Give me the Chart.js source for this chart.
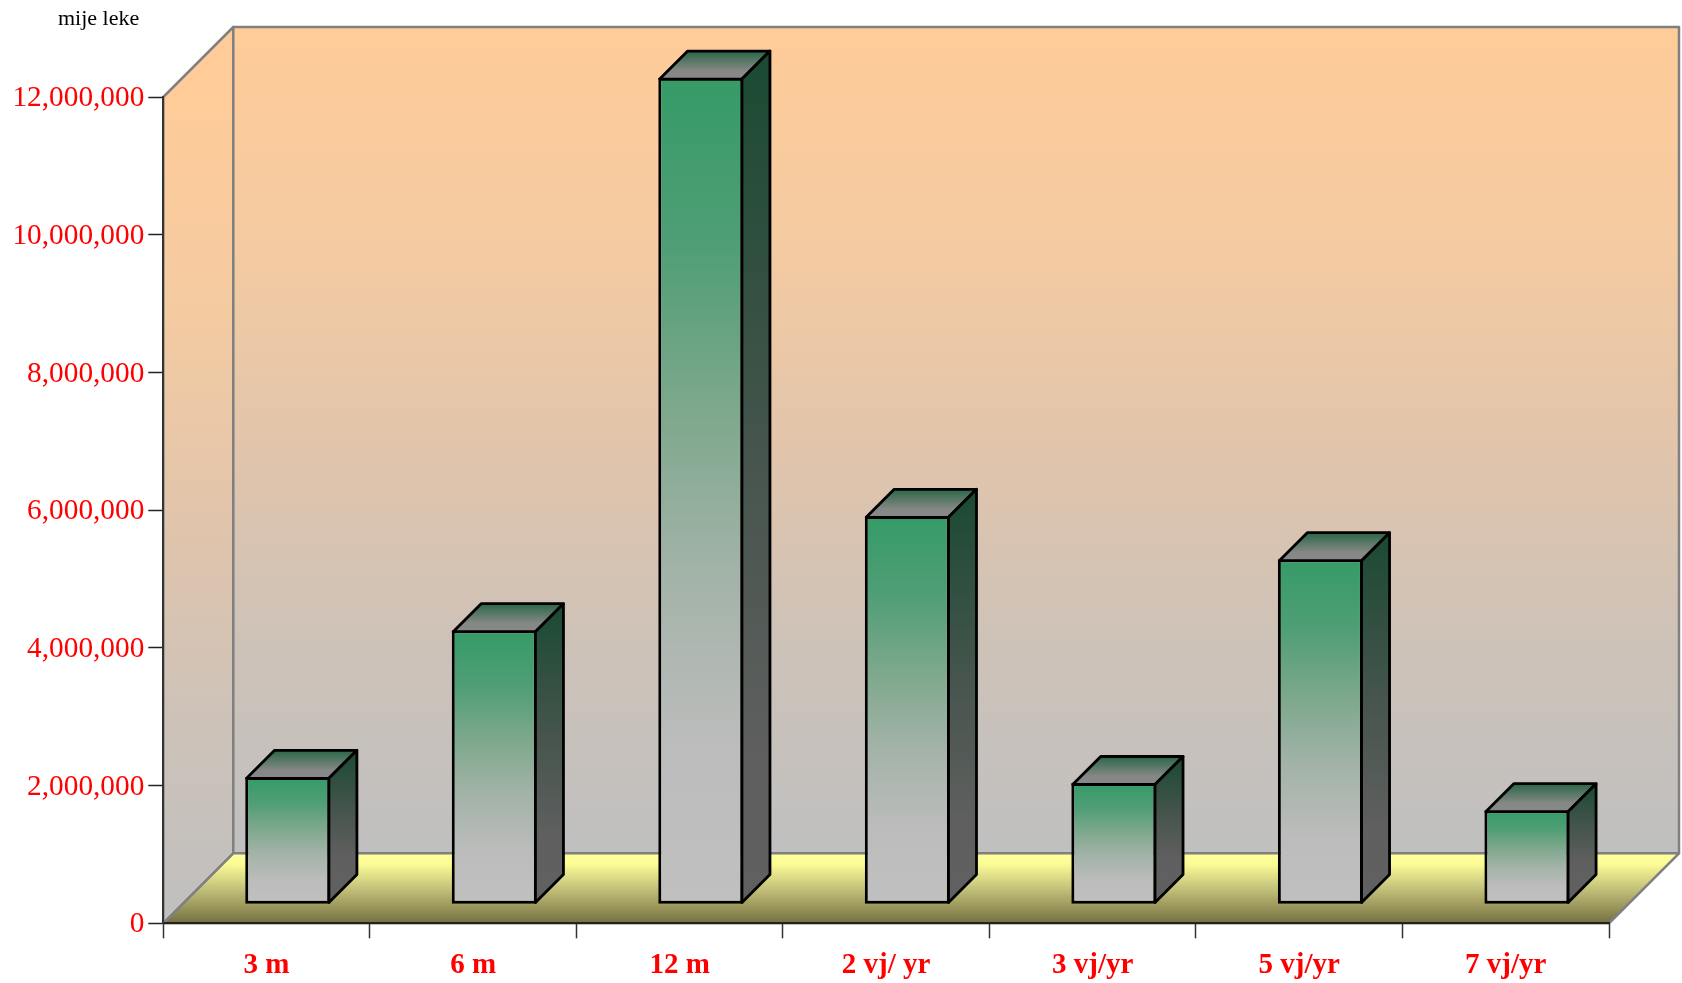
<!DOCTYPE html>
<html>
<head>
<meta charset="utf-8">
<title>mije leke</title>
<style>
    body { margin: 0; background: #fff; }
    canvas { display: block; }
</style>
<script src="https://cdn.jsdelivr.net/npm/chart.js@4/dist/chart.umd.min.js"></script>
</head>
<body>
<canvas id="chart" width="1682" height="983"></canvas>
<script>
// data
const categories = ['3 m', '6 m', '12 m', '2 vj/ yr', '3 vj/yr', '5 vj/yr', '7 vj/yr'];
const values = [1850000, 3980000, 12005000, 5640000, 1760000, 5010000, 1365000];
const tickValues = [0, 2000000, 4000000, 6000000, 8000000, 10000000, 12000000];
const tickLabels = ['0', '2,000,000', '4,000,000', '6,000,000', '8,000,000', '10,000,000', '12,000,000'];
const unitLabel = 'mije leke';

const SERIF = '"Liberation Serif", "Times New Roman", serif';
const WALL_DEPTH = 70;   // depth of the box behind the plot
const BAR_DEPTH = 28;    // depth of each bar
const BAR_SHIFT_X = 21.2; // bars stand a little inside the floor
const BAR_SHIFT_Y = -19;

function gradient(ctx, y0, y1, stops) {
    const g = ctx.createLinearGradient(0, y0, 0, y1);
    stops.forEach(s => g.addColorStop(s[0], s[1]));
    return g;
}

function poly(ctx, pts, fill, stroke, lineWidth) {
    ctx.beginPath();
    pts.forEach((p, i) => i ? ctx.lineTo(p[0], p[1]) : ctx.moveTo(p[0], p[1]));
    ctx.closePath();
    ctx.fillStyle = fill;
    ctx.fill();
    ctx.strokeStyle = stroke;
    ctx.lineWidth = lineWidth;
    ctx.lineJoin = 'round';
    ctx.stroke();
}

// walls and floor behind everything
const boxPlugin = {
    id: 'box',
    beforeDraw(chart) {
        const { ctx, chartArea: a } = chart;
        const d = WALL_DEPTH;
        const wall = [[0, '#ffcc99'], [0.25, '#f5cba1'], [0.5, '#e2c5ab'], [0.75, '#cdc2b8'], [1, '#c0c0c0']];
        ctx.save();
        poly(ctx, [[a.left, a.top], [a.left + d, a.top - d], [a.left + d, a.bottom - d], [a.left, a.bottom]],
            gradient(ctx, a.top, a.bottom, wall), '#808080', 2.5);
        poly(ctx, [[a.left + d, a.top - d], [a.right + d, a.top - d], [a.right + d, a.bottom - d], [a.left + d, a.bottom - d]],
            gradient(ctx, a.top - d, a.bottom - d, wall), '#808080', 2.5);
        poly(ctx, [[a.left, a.bottom], [a.left + d, a.bottom - d], [a.right + d, a.bottom - d], [a.right, a.bottom]],
            gradient(ctx, a.bottom - d, a.bottom, [[0, '#ffff99'], [0.15, '#fcfc96'], [0.5, '#c4c27b'], [1, '#757040']]), '#808080', 2.5);
        ctx.fillStyle = '#000';
        ctx.font = '22px ' + SERIF;
        ctx.textAlign = 'left';
        ctx.textBaseline = 'alphabetic';
        ctx.fillText(unitLabel, 58, 25);
        ctx.restore();
    }
};

// shifts the bars onto the floor and adds top and side faces
const barDepthPlugin = {
    id: 'barDepth',
    beforeDatasetsDraw(chart) {
        chart.ctx.save();
        chart.ctx.translate(BAR_SHIFT_X, BAR_SHIFT_Y);
    },
    afterDatasetsDraw(chart) {
        const ctx = chart.ctx;
        const d = BAR_DEPTH;
        chart.getDatasetMeta(0).data.forEach(bar => {
            const p = bar.getProps(['x', 'y', 'base', 'width'], true);
            const l = p.x - p.width / 2 + 1.4;
            const r = p.x + p.width / 2 - 1.4;
            const t = p.y + 1.4;
            const b = p.base - 1.4;
            poly(ctx, [[l, t], [l + d, t - d], [r + d, t - d], [r, t]],
                gradient(ctx, t - d, t, [[0, '#2a6647'], [0.7, '#858885'], [1, '#888888']]), '#000', 2.8);
            poly(ctx, [[r, t], [r + d, t - d], [r + d, b - d], [r, b]],
                gradient(ctx, t - d, b - d, [[0, '#1a4a32'], [0.5, '#47554e'], [0.85, '#5e5f5e'], [1, '#606060']]), '#000', 2.8);
        });
        ctx.restore();
    }
};

function frontFill(context) {
    const chart = context.chart;
    if (!chart.chartArea || !context.parsed) return '#359b67';
    const y = chart.scales.y.getPixelForValue(context.parsed.y);
    const base = chart.scales.y.getPixelForValue(0);
    return gradient(chart.ctx, y, base, [
        [0, '#359b67'], [0.2, '#4f9e75'], [0.4, '#7da88c'], [0.6, '#a3b3a8'], [0.8, '#bbbcbb'], [1, '#c0c0c0']
    ]);
}

new Chart(document.getElementById('chart'), {
    type: 'bar',
    data: {
        labels: categories,
        datasets: [{
            data: values,
            backgroundColor: frontFill,
            borderColor: '#000',
            borderWidth: 3,
            borderSkipped: false,
            categoryPercentage: 0.412,
            barPercentage: 1,
            clip: false
        }]
    },
    options: {
        responsive: false,
        animation: false,
        layout: { autoPadding: false, padding: { top: 97, right: 73, left: 0, bottom: 0 } },
        plugins: { legend: { display: false }, tooltip: { enabled: false }, title: { display: false } },
        scales: {
            x: {
                grid: { drawOnChartArea: false, tickLength: 15, tickColor: '#333', tickWidth: 1.5 },
                border: { color: '#222', width: 2 },
                ticks: {
                    color: '#ff0000',
                    font: { family: SERIF, size: 29, weight: 'bold' },
                    padding: 10,
                    maxRotation: 0,
                    autoSkip: false
                },
                afterFit: scale => { scale.height = 59.7; }
            },
            y: {
                min: 0,
                max: 12000000,
                afterBuildTicks: scale => { scale.ticks = tickValues.map(value => ({ value })); },
                grid: { drawOnChartArea: false, tickLength: 15, tickColor: '#222', tickWidth: 1.5 },
                border: { color: '#333', width: 2 },
                ticks: {
                    color: '#ff0000',
                    font: { family: SERIF, size: 29.3 },
                    padding: 4,
                    labelOffset: 1.5,
                    callback: (value, i) => tickLabels[i]
                },
                afterFit: scale => { scale.width = 163.3; }
            }
        }
    },
    plugins: [boxPlugin, barDepthPlugin]
});
</script>
</body>
</html>
